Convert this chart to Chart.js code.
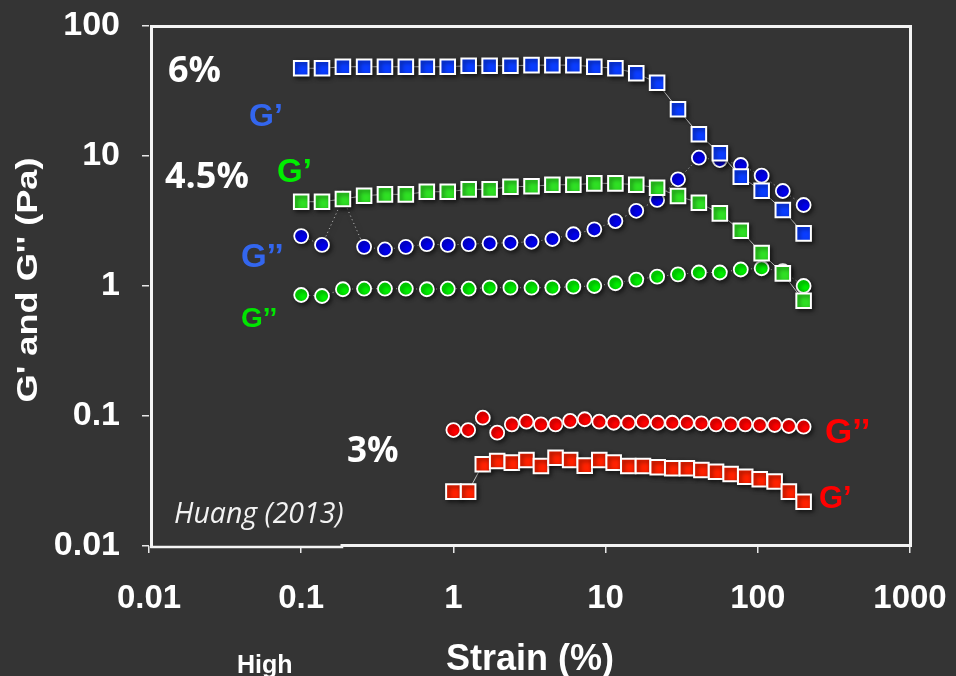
<!DOCTYPE html>
<html>
<head>
<meta charset="utf-8">
<script src="https://cdn.jsdelivr.net/npm/chart.js@4.4.1/dist/chart.umd.min.js"></script>
<style>
  html, body { margin: 0; padding: 0; background: #343434; }
  #wrap { width: 956px; height: 676px; }
  canvas { display: block; }
</style>
</head>
<body>
<div id="wrap"><canvas id="chart" width="956" height="676"></canvas></div>
<script>
// Strain sweeps (%): 4.5 % and 6 % gels from 0.1 to 200 %, 3 % gel from 1 to 200 %
const strainWide = [0.1, 0.137, 0.188, 0.259, 0.355, 0.487, 0.669, 0.918, 1.26, 1.73, 2.37, 3.26, 4.47,
                    6.14, 8.43, 11.6, 15.9, 21.8, 29.9, 41.0, 56.3, 77.3, 106, 146, 200];
const strainNarrow = [1.0, 1.25, 1.56, 1.94, 2.42, 3.02, 3.76, 4.69, 5.85, 7.29, 9.09, 11.3, 14.1,
                      17.6, 22.0, 27.4, 34.2, 42.6, 53.2, 66.3, 82.7, 103, 129, 160, 200];

// 6 % gel (Pa)
const storage6 = [47.3, 47.3, 48.6, 48.6, 48.6, 48.6, 48.6, 48.6, 49.5, 49.5, 49.5, 50.0, 50.0,
                  50.0, 48.6, 47.3, 43.3, 36.6, 22.9, 14.7, 10.5, 6.94, 5.41, 3.84, 2.54];
const loss6 = [2.42, 2.07, 4.7, 2.0, 1.91, 2.0, 2.10, 2.07, 2.10, 2.13, 2.15, 2.19, 2.30,
               2.50, 2.73, 3.16, 3.79, 4.59, 6.62, 9.70, 9.31, 8.53, 7.06, 5.38, 4.20];

// 4.5 % gel (Pa)
const storage45 = [4.45, 4.45, 4.67, 4.95, 5.07, 5.07, 5.31, 5.31, 5.54, 5.54, 5.80, 5.85, 6.01,
                   6.01, 6.16, 6.16, 6.01, 5.70, 4.92, 4.37, 3.62, 2.66, 1.79, 1.25, 0.77];
const loss45 = [0.853, 0.838, 0.944, 0.953, 0.953, 0.953, 0.944, 0.953, 0.953, 0.971, 0.971, 0.97, 0.971,
                0.988, 1.0, 1.05, 1.12, 1.18, 1.23, 1.27, 1.27, 1.34, 1.37, 1.30, 1.0];

// 3 % gel (Pa)
const storage3 = [0.0262, 0.0262, 0.0425, 0.0451, 0.0438, 0.0459, 0.0412, 0.0478, 0.0459, 0.0415, 0.0459, 0.0438, 0.0412,
                  0.0412, 0.0403, 0.0396, 0.0396, 0.0384, 0.0373, 0.0358, 0.0341, 0.0326, 0.0313, 0.0262, 0.0219];
const loss3 = [0.078, 0.078, 0.097, 0.0744, 0.0863, 0.0904, 0.0863, 0.0863, 0.0916, 0.0944, 0.0904, 0.0887, 0.0887,
               0.0904, 0.0887, 0.0887, 0.0887, 0.0879, 0.0863, 0.0863, 0.0863, 0.0853, 0.0853, 0.0838, 0.0827];

const xTickValues = [0.01, 0.1, 1, 10, 100, 1000];
const xTickLabels = ['0.01', '0.1', '1', '10', '100', '1000'];
const yTickValues = [0.01, 0.1, 1, 10, 100];
const yTickLabels = ['0.01', '0.1', '1', '10', '100'];

const BG = '#343434';
const SANS = '"Liberation Sans", Arial, sans-serif';
const HUMAN = '"Open Sans", "Noto Sans", sans-serif';

function pairs(xs, ys) { return xs.map((x, i) => ({ x: x, y: ys[i] })); }

function squareSeries(label, xs, ys, fill) {
  return {
    label, data: pairs(xs, ys), order: 0, showLine: true,
    borderColor: '#c4c4c4', borderWidth: 1,
    pointStyle: 'rect', pointRadius: 10.3, pointBorderWidth: 2,
    pointBackgroundColor: fill, pointBorderColor: '#ffffff'
  };
}
function circleSeries(label, xs, ys, fill) {
  return {
    label, data: pairs(xs, ys), order: 1, showLine: true,
    borderColor: '#c4c4c4', borderWidth: 1, borderDash: [1, 3],
    pointStyle: 'circle', pointRadius: 7, pointBorderWidth: 1.8,
    pointBackgroundColor: fill, pointBorderColor: '#ffffff'
  };
}

const backdrop = {
  id: 'backdrop',
  beforeDraw(chart) {
    const c = chart.ctx;
    c.save();
    c.fillStyle = BG;
    c.fillRect(0, 0, chart.width, chart.height);
    c.restore();
  }
};

// soft drop shadow under the markers
const markerShadow = {
  id: 'markerShadow',
  beforeDatasetsDraw(chart) {
    const c = chart.ctx;
    c.save();
    c.shadowColor = 'rgba(0,0,0,0.55)';
    c.shadowBlur = 4;
    c.shadowOffsetX = 2;
    c.shadowOffsetY = 2;
  },
  afterDatasetsDraw(chart) { chart.ctx.restore(); }
};

const frameAndText = {
  id: 'frameAndText',
  afterDraw(chart) {
    const c = chart.ctx;
    const a = chart.chartArea;
    c.save();
    // plot frame
    c.strokeStyle = '#f4f4f4';
    c.lineWidth = 3;
    c.lineCap = 'square';
    c.beginPath();
    c.moveTo(a.left + 2.5, a.bottom + 0.5);
    c.lineTo(a.left + 2.5, a.top + 0.5);
    c.lineTo(a.right + 0.5, a.top + 0.5);
    c.lineTo(a.right + 0.5, a.bottom - 0.5);
    c.lineTo(342, a.bottom - 0.5);
    c.stroke();
    c.lineWidth = 2.5;
    c.beginPath();
    c.moveTo(a.left + 2.5, a.bottom + 1);
    c.lineTo(342, a.bottom + 1);
    c.stroke();

    const put = (txt, x, y, font, color, align) => {
      c.font = font;
      c.fillStyle = color;
      c.textAlign = align || 'left';
      c.textBaseline = 'alphabetic';
      c.fillText(txt, x, y);
    };
    // concentration labels
    put('6%', 168, 82, 'bold 36px ' + HUMAN, '#ffffff');
    put('4.5%', 165, 188, 'bold 36px ' + HUMAN, '#ffffff');
    put('3%', 347, 462, 'bold 35px ' + HUMAN, '#ffffff');
    // modulus labels
    put('G\u2019', 249, 126, 'bold 32px ' + SANS, '#3366ee');
    put('G\u2019', 277, 182, 'bold 33px ' + SANS, '#00ee00');
    put('G\u2019\u2019', 241, 267, 'bold 33px ' + SANS, '#3366ee');
    put('G\u2019\u2019', 241, 327, 'bold 28px ' + SANS, '#00e600');
    put('G\u2019\u2019', 825, 443, 'bold 35px ' + SANS, '#ff0000');
    put('G\u2019', 819, 508, 'bold 31px ' + SANS, '#ff0000');
    // source
    put('Huang (2013)', 174, 523, 'italic 28.5px ' + HUMAN, '#f2f2f2');
    // axis titles
    put('High', 237, 673, 'bold 25px ' + SANS, '#ffffff');
    put('Strain (%)', 530, 670, 'bold 36px ' + SANS, '#ffffff', 'center');

    c.save();
    c.translate(37, 280);
    c.rotate(-Math.PI / 2);
    c.font = 'bold 30px ' + SANS;
    const t = "G' and G'' (Pa)";
    const w = c.measureText(t).width;
    c.scale(245 / w, 1);
    c.fillStyle = '#ffffff';
    c.textAlign = 'center';
    c.textBaseline = 'alphabetic';
    c.fillText(t, 0, 0);
    c.restore();
    c.restore();
  }
};

const tickFont = { family: SANS, size: 33, weight: 'bold' };

new Chart(document.getElementById('chart'), {
  type: 'scatter',
  data: {
    datasets: [
      squareSeries("G' 6%", strainWide, storage6, '#0a3dff'),
      squareSeries("G' 4.5%", strainWide, storage45, '#2fe024'),
      squareSeries("G' 3%", strainNarrow, storage3, '#ff2200'),
      circleSeries("G'' 6%", strainWide, loss6, '#0000ee'),
      circleSeries("G'' 4.5%", strainWide, loss45, '#00ee00'),
      circleSeries("G'' 3%", strainNarrow, loss3, '#ff0000')
    ]
  },
  options: {
    responsive: false,
    animation: false,
    devicePixelRatio: 1,
    layout: { padding: { left: 0, top: 26, right: 46, bottom: 0 } },
    plugins: { legend: { display: false }, tooltip: { enabled: false } },
    scales: {
      x: {
        type: 'logarithmic', position: 'bottom', min: 0.01, max: 1000,
        afterBuildTicks: s => { s.ticks = xTickValues.map(v => ({ value: v })); },
        afterFit: s => { s.height = 130; s.paddingLeft = 0; s.paddingRight = 0; },
        ticks: {
          color: '#ffffff', font: tickFont, padding: 26, maxRotation: 0, autoSkip: false,
          callback: (v, i) => xTickLabels[i]
        },
        grid: { drawOnChartArea: false, drawTicks: true, tickLength: 7, color: '#e8e8e8', lineWidth: 1.5 },
        border: { display: false }
      },
      y: {
        type: 'logarithmic', position: 'left', min: 0.01, max: 100,
        afterBuildTicks: s => { s.ticks = yTickValues.map(v => ({ value: v })); },
        afterFit: s => { s.width = 149; s.paddingTop = 0; s.paddingBottom = 0; },
        ticks: {
          color: '#ffffff', font: { family: SANS, size: 34, weight: 'bold' }, padding: 22, autoSkip: false,
          callback: (v, i) => yTickLabels[i]
        },
        grid: { drawOnChartArea: false, drawTicks: true, tickLength: 7, color: '#e8e8e8', lineWidth: 1.5 },
        border: { display: false }
      }
    }
  },
  plugins: [backdrop, markerShadow, frameAndText]
});
</script>
</body>
</html>
